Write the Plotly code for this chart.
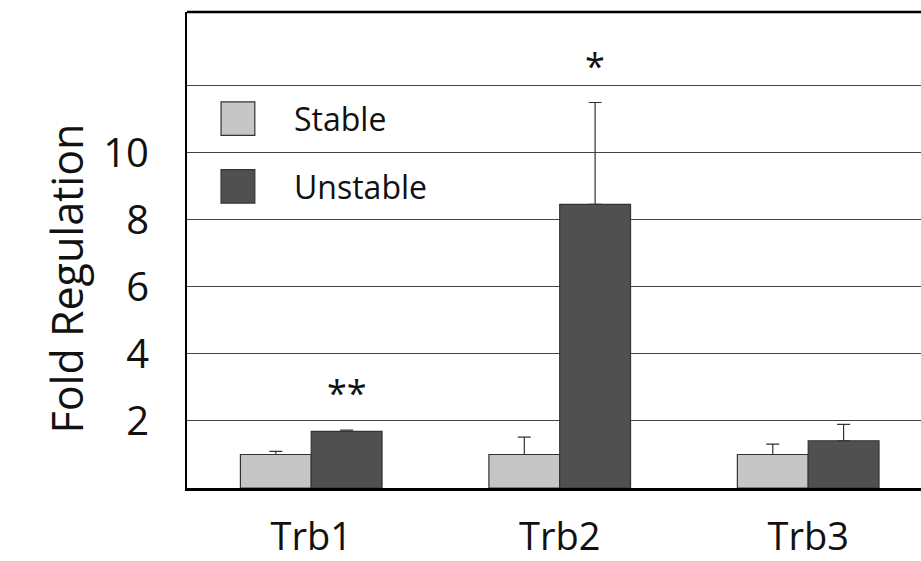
import plotly.graph_objects as go

categories = ["Trb1", "Trb2", "Trb3"]
stable = [1.0, 1.0, 1.0]
stable_err = [0.09, 0.52, 0.31]
unstable = [1.69, 8.46, 1.41]
unstable_err = [0.04, 3.04, 0.49]
significance = ["**", "*", ""]
y_ticks = [0, 2, 4, 6, 8, 10, 12]
y_tick_labels = ["", "2", "4", "6", "8", "10", ""]

FONT = "Open Sans"
W, H = 921, 561
L, R, T, B = 187, 0, 12, 73
PW, PH = W - L - R, H - T - B

fig = go.Figure()
fig.add_trace(go.Bar(
    x=categories, y=stable, name="Stable",
    marker=dict(color="#c6c6c6", line=dict(color="#333333", width=1.2)),
    error_y=dict(type="data", array=stable_err, symmetric=False,
                 arrayminus=[0, 0, 0], color="#333333", thickness=1.2, width=6.5),
))
fig.add_trace(go.Bar(
    x=categories, y=unstable, name="Unstable",
    marker=dict(color="#505050", line=dict(color="#333333", width=1.2)),
    error_y=dict(type="data", array=unstable_err, symmetric=False,
                 arrayminus=[0, 0, 0], color="#333333", thickness=1.2, width=6.5),
))

# significance markers above unstable bars
for i, (c, s) in enumerate(zip(categories, significance)):
    if s:
        fig.add_annotation(x=c, y=unstable[i] + unstable_err[i], xref="x", yref="y",
                           text=s, showarrow=False, xshift=35.5, yshift=11,
                           yanchor="bottom", font=dict(family=FONT, size=36, color="#111"))

# legend drawn manually
legend_items = [("Stable", "#c6c6c6", 11.02), ("Unstable", "#505050", 9.0)]
for name, col, yc in legend_items:
    fig.add_shape(type="rect", xref="x", yref="y",
                  x0=-0.363, x1=-0.227, y0=yc - 0.5, y1=yc + 0.5,
                  fillcolor=col, line=dict(color="#333333", width=1.2))
    fig.add_annotation(x=-0.078, y=yc, xref="x", yref="y", text=name,
                       showarrow=False, xanchor="left", yanchor="middle",
                       font=dict(family=FONT, size=32, color="#111"))

# top border
fig.add_shape(type="line", xref="paper", yref="paper", x0=0, x1=1, y0=1, y1=1,
              line=dict(color="black", width=2.5))

# y title
fig.add_annotation(x=(34 - L) / PW, y=(H - B - 279) / PH, xref="paper", yref="paper",
                   text="Fold Regulation", showarrow=False, textangle=-90,
                   font=dict(family=FONT, size=43, color="#111"))

fig.update_layout(
    width=W, height=H,
    margin=dict(l=L, r=R, t=T, b=B, autoexpand=False),
    plot_bgcolor="white", paper_bgcolor="white",
    barmode="group", bargap=0.43, bargroupgap=0,
    showlegend=False,
    font=dict(family=FONT, color="#111"),
    xaxis=dict(range=[-0.5, 2.454], showline=True, linecolor="black", linewidth=3,
               showgrid=False, ticks="", tickfont=dict(size=38), ticklabelstandoff=13,
               automargin=False),
    yaxis=dict(range=[0, 14.2], showline=True, linecolor="black", linewidth=2,
               tickvals=y_ticks, ticktext=y_tick_labels, showgrid=True,
               gridcolor="#444444", gridwidth=1.2, zeroline=False, ticks="",
               tickfont=dict(size=40), ticklabelstandoff=28, automargin=False),
)

fig.write_html("out.html", config={"displayModeBar": False},
               post_script="document.body.style.margin='0';document.body.style.overflow='hidden';")
